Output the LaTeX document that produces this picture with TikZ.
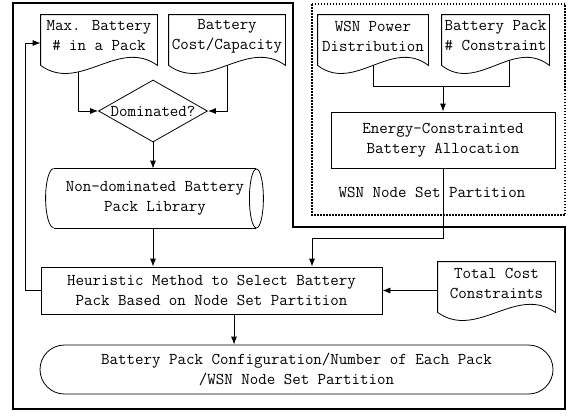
\documentclass[tikz,border=0pt]{standalone}
\usepackage{amsmath}
\usepackage{tikz}
\usetikzlibrary{shapes.geometric,shapes.misc,calc,arrows.meta}

% wavy bottom of a document node, 8pt below its south side
\newcommand{\docframe}[1]{%
  \coordinate (#1-l) at ([yshift=-8pt]#1.south west);
  \coordinate (#1-r) at ([yshift=-8pt]#1.south east);
  \draw (#1.north west) -- (#1.north east) -- (#1-r)
    .. controls ($(#1-r)!0.333!(#1-l)+(0,28pt)$) and ($(#1-r)!0.667!(#1-l)+(0,-28pt)$) .. (#1-l) -- cycle;}

\begin{document}
\begin{tikzpicture}[x=1pt,y=1pt,line width=0.8pt,>={Latex[length=8pt,width=6pt]}]
        \tikzstyle{every node} = [inner sep=0pt,align=center,
          font=\fontsize{16.5}{20}\selectfont\ttfamily]
        \tikzstyle{doc} = [rectangle,minimum height=42pt]
        \tikzstyle{box} = [rectangle,draw]
        \useasboundingbox (0,0) rectangle (569,-415);
        % frames
        \draw [line width=1.6pt] (13,-3) -- (293,-3) -- (293,-227) -- (565,-227)
          -- (565,-409) -- (13,-409) -- cycle;
        \draw [line width=1.3pt,dash pattern=on 1.5pt off 1.5pt] (312,-4) rectangle (565,-215);
        % left part
        \node [doc,minimum width=116pt] (maxbat) at (99,-36) {Max. Battery\\\# in a Pack};
        \node [doc,minimum width=116pt] (cost) at (227,-36) {Battery\\Cost/Capacity};
        \node [diamond,draw,aspect=1.75,minimum width=109pt,minimum height=62pt] (dom) at (153,-111) {Dominated?};
        \node [rectangle,minimum width=202pt,minimum height=59pt] (lib) at (155,-198.5) {Non-dominated Battery\\Pack Library};
        \node [box,minimum width=341pt,minimum height=47pt] (heur) at (211.5,-290.5) {Heuristic Method to Select Battery\\Pack Based on Node Set Partition};
        \node [doc,minimum width=117pt] (total) at (496.5,-283) {Total Cost\\Constraints};
        \node [rounded rectangle,draw,minimum width=513pt,minimum height=49pt] (term) at (296.5,-369.5) {Battery Pack Configuration/Number of Each Pack\\/WSN Node Set Partition};
        % right part
        \node [doc,minimum width=110pt] (wsnpow) at (373,-36) {WSN Power\\Distribution};
        \node [doc,minimum width=107pt] (packcon) at (495.5,-36) {Battery Pack\\\# Constraint};
        \node [box,minimum width=224pt,minimum height=56pt] (energy) at (443,-140) {Energy-Constrainted\\Battery Allocation};
        \node (wsnlabel) at (432,-192) {WSN Node Set Partition};
        \docframe{maxbat}
        \docframe{cost}
        \docframe{total}
        \docframe{wsnpow}
        \docframe{packcon}
        \draw (lib.north west) -- (lib.north east);
        \draw (lib.south west) -- (lib.south east);
        \draw (lib.north west) arc [start angle=90,end angle=270,x radius=8pt,y radius=29.5pt];
        \draw (lib.east) ellipse [x radius=7pt,y radius=29.5pt];
        % connectors
        \draw [->] ([xshift=-21pt,yshift=-14.6pt]maxbat.south) |- (dom.west);
        \draw [->] ([yshift=-8pt]cost.south) |- (dom.east);
        \draw [->] (dom.south) -- (dom.south |- lib.north);
        \draw [->] (lib.south -| dom.south) -- (dom.south |- heur.north);
        \draw [->] (heur.west) -- ++(-15,0) |- ([yshift=-7pt]maxbat.west);
        \draw [->] (heur.east -| total.west) -- (heur.east);
        \coordinate (hout) at ([xshift=22.5pt]heur.south);
        \draw [->] (hout) -- (hout |- term.north);
        \coordinate (merge) at ([yshift=25pt]energy.north);
        \draw ([yshift=-8pt]wsnpow.south) |- (merge) -| ([xshift=13.5pt,yshift=-3pt]packcon.south);
        \draw [->] (merge) -- (energy.north);
        \coordinate (bend) at (312,-238);
        \draw [->] (energy.south) |- (bend) -- (bend |- heur.north);
      \end{tikzpicture}
\end{document}
